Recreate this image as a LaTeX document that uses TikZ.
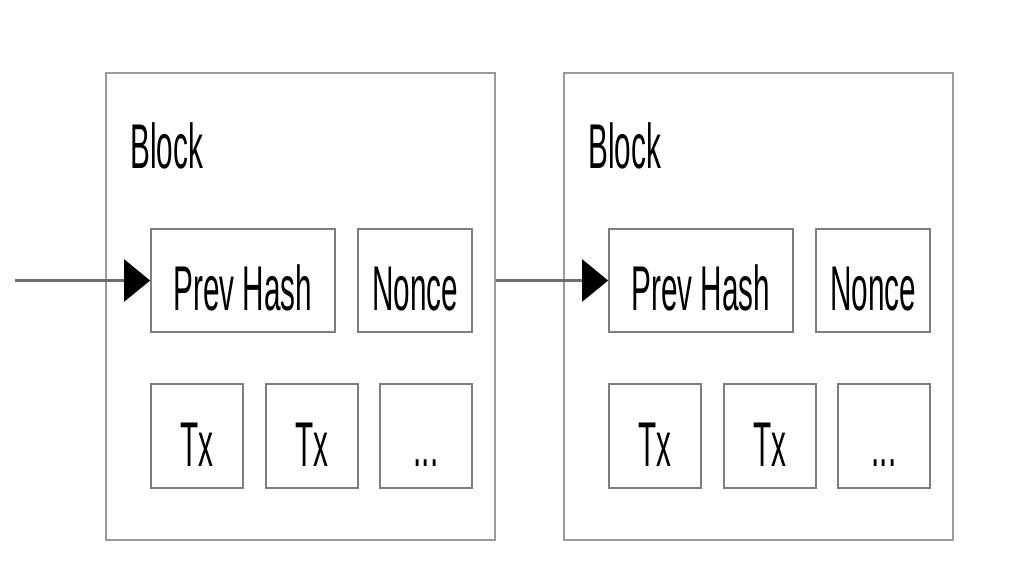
\documentclass[tikz,border=0pt]{standalone}
\usepackage{fontspec}
\setmainfont{Liberation Sans}
\usetikzlibrary{arrows.meta}
\definecolor{blockgray}{HTML}{9A9A9A}
\definecolor{boxgray}{HTML}{7E7E7E}
\definecolor{linegray}{HTML}{6E6E6E}
\newcommand{\narrow}[1]{\scalebox{0.47}[1]{#1}}
\tikzset{
  chainblock/.style={draw=blockgray, line width=1pt, minimum width=7.78cm, minimum height=9.34cm, inner sep=0pt},
  field/.style={draw=boxgray, line width=1pt, minimum height=2.07cm, inner sep=0pt, text height=1.2cm, text depth=0pt, font=\fontsize{36}{40}\selectfont},
  title/.style={anchor=base west, inner sep=0pt, font=\fontsize{36}{40}\selectfont},
  link/.style={draw=linegray, line width=1.4pt, -{Triangle[length=0.52cm,width=0.84cm,black]}},
}
\begin{document}
\begin{tikzpicture}[x=0.02cm,y=-0.02cm]
\fill[white] (0,0) rectangle (1024,576);
\useasboundingbox (0,0) rectangle (1024,576);
% first block
\node[chainblock] (blockA) at (300.5,306.5) {};
\node[title] (titleA) at (130,168) {\narrow{Block}};
\node[field, minimum width=3.68cm] (prevA) at (243,280.5) {\narrow{Prev Hash}};
\node[field, minimum width=2.28cm] (nonceA) at (415,280.5) {\narrow{Nonce}};
\node[field, minimum width=1.84cm] (txA1) at (197,436) {\narrow{Tx}};
\node[field, minimum width=1.84cm] (txA2) at (312,436) {\narrow{Tx}};
\node[field, minimum width=1.84cm] (dotsA) at (426,436) {\narrow{...}};
% second block
\node[chainblock] (blockB) at (758.5,306.5) {};
\node[title] (titleB) at (588,168) {\narrow{Block}};
\node[field, minimum width=3.68cm] (prevB) at (701,280.5) {\narrow{Prev Hash}};
\node[field, minimum width=2.28cm] (nonceB) at (873,280.5) {\narrow{Nonce}};
\node[field, minimum width=1.84cm] (txB1) at (655,436) {\narrow{Tx}};
\node[field, minimum width=1.84cm] (txB2) at (770,436) {\narrow{Tx}};
\node[field, minimum width=1.84cm] (dotsB) at (884,436) {\narrow{...}};
% links
\coordinate (start) at (15,280.5);
\draw[link] (start) -- (prevA.west);
\draw[link] (prevB.west -| blockA.east) -- (prevB.west);
\end{tikzpicture}
\end{document}
